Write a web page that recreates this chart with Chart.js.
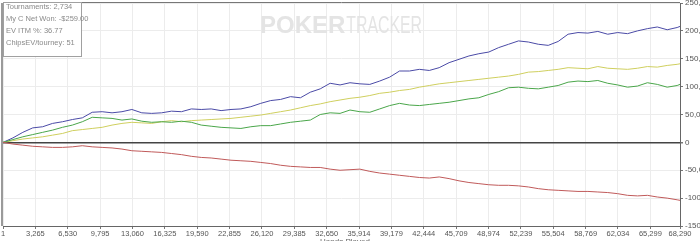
<!DOCTYPE html>
<html>
<head>
<meta charset="utf-8">
<script src="https://cdn.jsdelivr.net/npm/chart.js@4/dist/chart.umd.min.js"></script>
<style>
  html, body { margin: 0; padding: 0; background: #fff; }
  #wrap { width: 700px; height: 241px; position: relative; }
</style>
</head>
<body>
<div id="wrap"><canvas id="chart"></canvas></div>
<script>
// Datos
const hands = [1, 1000, 2000, 3000, 4000, 5000, 6000, 7000, 8000, 9000, 10000, 11000, 12000, 13000, 14000, 15000, 16000, 17000, 18000, 19000, 20000, 21000, 22000, 23000, 24000, 25000, 26000, 27000, 28000, 29000, 30000, 31000, 32000, 33000, 34000, 35000, 36000, 37000, 38000, 39000, 40000, 41000, 42000, 43000, 44000, 45000, 46000, 47000, 48000, 49000, 50000, 51000, 52000, 53000, 54000, 55000, 56000, 57000, 58000, 59000, 60000, 61000, 62000, 63000, 64000, 65000, 66000, 67000, 68000, 68290];

const blueSeries = [0, 8, 18, 26, 28, 34, 37, 41, 44, 54, 55, 53, 55, 59, 53, 52, 53, 56, 55, 60, 59, 60, 57, 59, 60, 64, 70, 75, 77, 82, 80, 90, 96, 106, 103, 107, 105, 104, 110, 117, 128, 128, 131, 129, 134, 143, 149, 155, 159, 162, 170, 176, 182, 180, 176, 174, 181, 194, 197, 196, 199, 194, 197, 195, 200, 204, 207, 202, 206, 208];

const yellowSeries = [0, 3, 6, 8, 10, 13, 16, 21, 23, 25, 27, 31, 34, 36, 35, 34, 37, 39, 37, 39, 40, 41, 42, 43, 45, 47, 49, 52, 55, 58, 62, 66, 69, 73, 76, 79, 81, 84, 88, 90, 93, 95, 99, 102, 105, 107, 109, 111, 113, 115, 117, 119, 122, 126, 127, 129, 131, 134, 133, 132, 136, 133, 132, 131, 133, 136, 135, 138, 140, 141];

const greenSeries = [0, 5, 10, 14, 18, 22, 27, 31, 37, 45, 44, 43, 40, 42, 38, 36, 37, 36, 38, 36, 31, 29, 27, 26, 25, 28, 30, 30, 33, 36, 38, 40, 50, 53, 52, 58, 55, 54, 60, 66, 70, 67, 66, 68, 70, 72, 75, 78, 80, 86, 91, 98, 99, 97, 96, 99, 102, 108, 110, 109, 111, 106, 103, 99, 101, 107, 104, 99, 102, 104];

const redSeries = [0, -3, -5, -7, -8, -9, -9, -8, -6, -8, -9, -10, -12, -15, -16, -17, -18, -20, -22, -25, -27, -28, -30, -32, -33, -34, -36, -38, -41, -43, -44, -45, -45, -48, -50, -49, -48, -52, -55, -57, -59, -61, -63, -64, -62, -65, -69, -72, -74, -76, -77, -77, -78, -80, -83, -85, -86, -87, -88, -88, -89, -90, -92, -95, -96, -95, -98, -100, -103, -104];

const xTickLabels = ['1', '3,265', '6,530', '9,795', '13,060', '16,325', '19,590', '22,855', '26,120', '29,385', '32,650', '35,914', '39,179', '42,444', '45,709', '48,974', '52,239', '55,504', '58,769', '62,034', '65,299', '68,290'];
const xTickValues = xTickLabels.map(s => Number(s.replace(/,/g, '')));

const infoLines = ['Tournaments: 2,734', 'My C Net Won: -$259.00', 'EV ITM %: 36.77', 'ChipsEV/tourney: 51'];
const xTitle = 'Hands Played';

const toPoints = (arr) => arr.map((v, i) => ({ x: hands[i], y: v }));
const FONT = '"Liberation Sans", Arial, sans-serif';

// Marca de agua + recuadro de info + bordes
const decorations = {
  id: 'decorations',
  beforeDatasetsDraw(chart) {
    const ctx = chart.ctx;
    ctx.save();
    ctx.fillStyle = '#e4e4e4';
    ctx.textBaseline = 'middle';
    ctx.font = 'bold 24px ' + FONT;
    ctx.fillText('POKER', 260, 26);
    const w = ctx.measureText('POKER').width;
    ctx.translate(260 + w + 1, 26);
    ctx.scale(0.66, 1);
    ctx.font = '24px ' + FONT;
    ctx.fillText('TRACKER', 0, 0);
    ctx.restore();
  },
  afterDatasetsDraw(chart) {
    const ctx = chart.ctx;
    const a = chart.chartArea;
    ctx.save();
    // bordes superior e izquierdo
    ctx.strokeStyle = '#777';
    ctx.lineWidth = 1;
    ctx.beginPath();
    ctx.moveTo(a.left, a.top - 0.5);
    ctx.lineTo(a.right, a.top - 0.5);
    ctx.stroke();
    ctx.strokeStyle = '#9a9a9a';
    ctx.lineWidth = 2;
    ctx.beginPath();
    ctx.moveTo(a.left - 1, a.top);
    ctx.lineTo(a.left - 1, a.bottom);
    ctx.stroke();

    // recuadro de info
    ctx.fillStyle = '#fff';
    ctx.fillRect(3, 2, 79, 55);
    ctx.strokeStyle = '#a0a0a0';
    ctx.lineWidth = 1;
    ctx.strokeRect(3.5, 2.5, 78, 54);
    ctx.fillStyle = '#8a8a8a';
    ctx.font = '7.5px ' + FONT;
    ctx.textBaseline = 'middle';
    infoLines.forEach((t, i) => ctx.fillText(t, 6, 7 + i * 12));

    // título eje X (cortado como en el original)
    ctx.fillStyle = '#666';
    ctx.font = '8px ' + FONT;
    ctx.textAlign = 'center';
    ctx.textBaseline = 'top';
    ctx.fillText(xTitle, 345, 237.5);
    ctx.restore();
  }
};

const ds = (label, data, color) => ({
  label, data: toPoints(data), borderColor: color, backgroundColor: color,
  borderWidth: 1, pointRadius: 0, tension: 0, fill: false
});

new Chart(document.getElementById('chart').getContext('2d'), {
  type: 'line',
  data: {
    datasets: [
      ds('Red', redSeries, '#c05a5a'),
      ds('Green', greenSeries, '#4aa64a'),
      ds('Yellow', yellowSeries, '#cfcf5e'),
      ds('Blue', blueSeries, '#4a4aa6')
    ]
  },
  options: {
    responsive: true,
    maintainAspectRatio: false,
    animation: false,
    layout: { padding: { left: 3, top: 3, right: 0, bottom: 0 } },
    plugins: { legend: { display: false }, tooltip: { enabled: false } },
    scales: {
      x: {
        type: 'linear', min: 1, max: 68290,
        afterBuildTicks: (scale) => { scale.ticks = xTickValues.map(v => ({ value: v })); },
        afterFit: (scale) => { scale.height = 15; scale.paddingLeft = 0; scale.paddingRight = 0; },
        ticks: {
          autoSkip: false, maxRotation: 0, padding: 0, color: '#555',
          font: { family: FONT, size: 7.5 },
          callback: (v, i) => xTickLabels[i]
        },
        grid: { color: '#ececec', tickColor: '#777', tickLength: 3 },
        border: { color: '#666', width: 1 }
      },
      y: {
        position: 'right', min: -150, max: 250,
        afterBuildTicks: (scale) => {
          const t = [];
          for (let v = -150; v <= 250; v += 50) t.push({ value: v });
          scale.ticks = t;
        },
        afterFit: (scale) => { scale.width = 20; scale.paddingTop = 0; scale.paddingBottom = 0; },
        ticks: {
          padding: 2, color: '#555',
          font: { family: FONT, size: 8 },
          callback: (v) => v === 0 ? '0' : v + ',00'
        },
        grid: {
          color: (c) => c.tick && c.tick.value === 0 ? '#444' : '#ececec',
          lineWidth: (c) => c.tick && c.tick.value === 0 ? 1.5 : 1,
          tickColor: '#777', tickLength: 3
        },
        border: { color: '#666', width: 1 }
      }
    }
  },
  plugins: [decorations]
});
</script>
</body>
</html>
